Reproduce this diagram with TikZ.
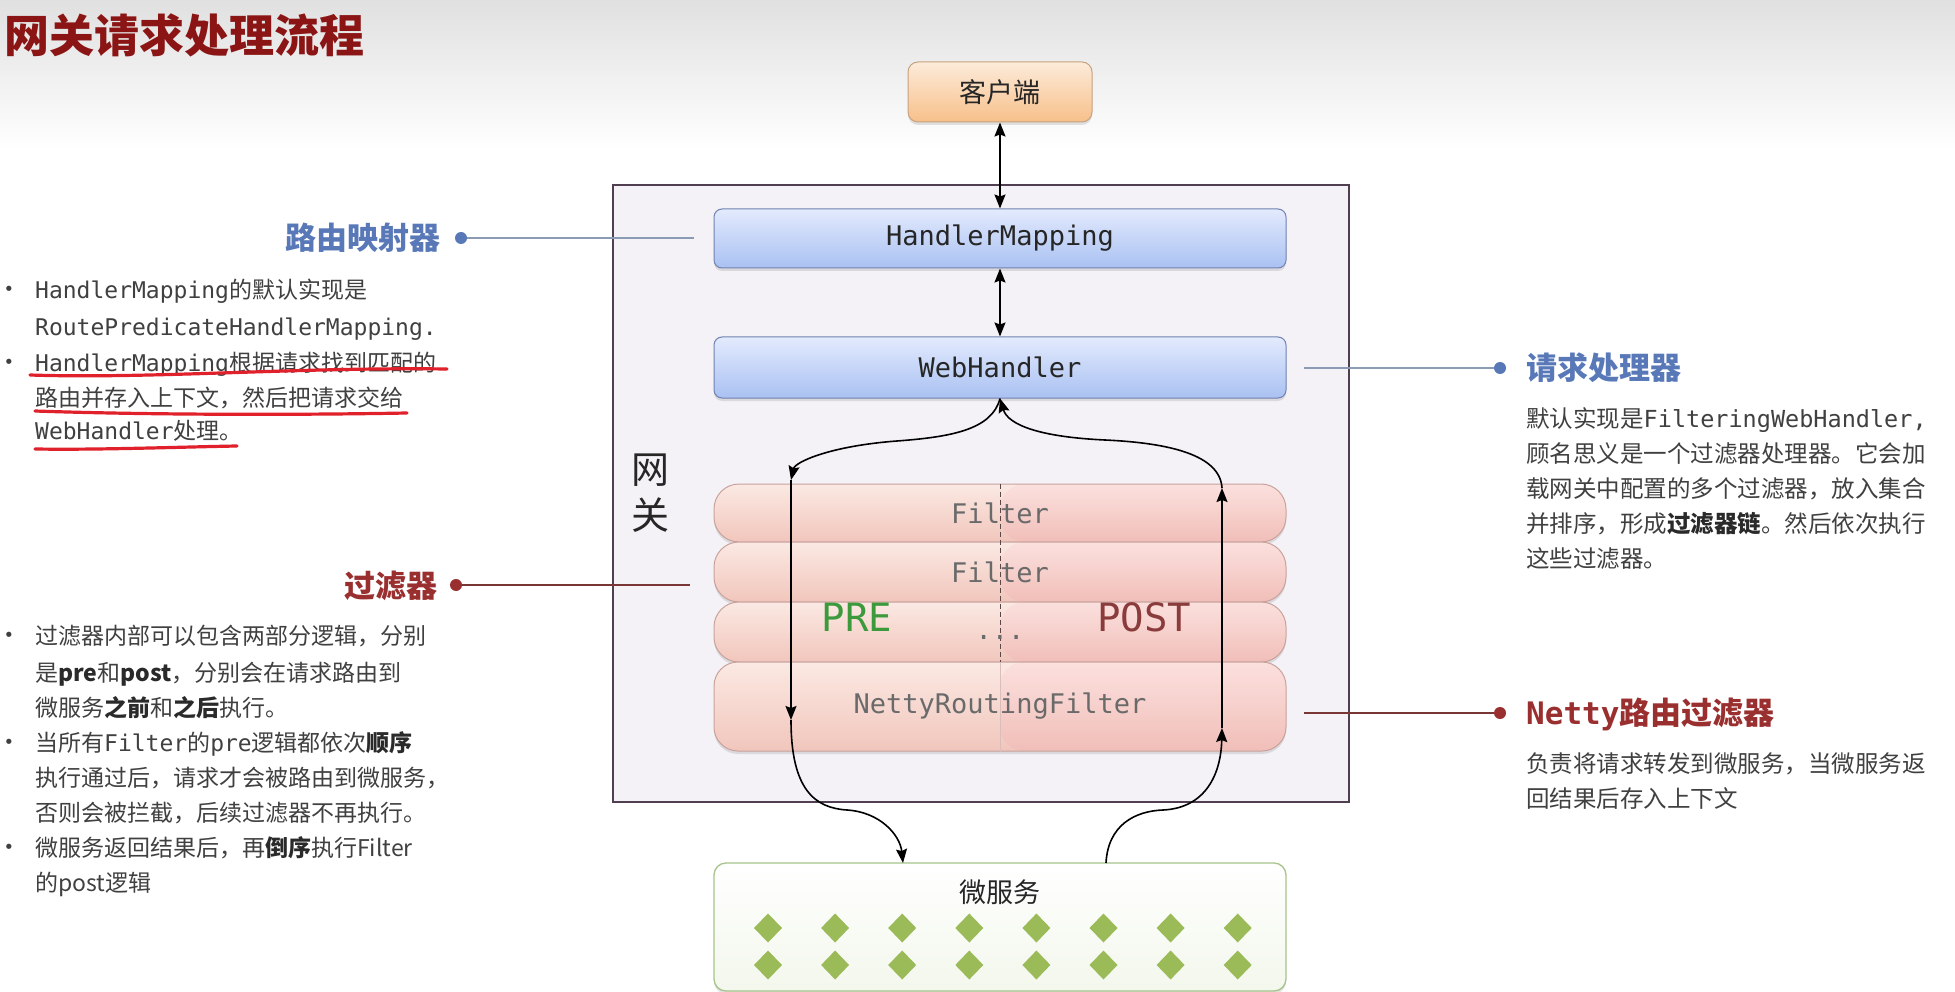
\documentclass[tikz,border=0pt]{standalone}
\usepackage{fontspec}
\setmainfont{Noto Sans CJK SC}
\setmonofont{DejaVu Sans Mono}
\newfontfamily\bulletfont{DejaVu Sans}
\usetikzlibrary{arrows.meta,shadows}
\definecolor{titleRed}{HTML}{8B1515}
\definecolor{headBlue}{HTML}{5878B8}
\definecolor{headRed}{HTML}{9A2F2F}
\definecolor{lineBlue}{HTML}{8C9BB4}
\definecolor{lineRed}{HTML}{7A3535}
\definecolor{bodyGray}{HTML}{404040}
\definecolor{boldGray}{HTML}{2A2A2A}
\definecolor{gwFill}{HTML}{F4F2F7}
\definecolor{gwDraw}{HTML}{4F3F50}
\definecolor{hmTop}{HTML}{E3EAFD}
\definecolor{hmBot}{HTML}{A9C1F2}
\definecolor{hmDraw}{HTML}{6F82B0}
\definecolor{clTop}{HTML}{FCEBDA}
\definecolor{clBot}{HTML}{F7C08A}
\definecolor{clDraw}{HTML}{C7A27E}
\definecolor{fTop}{HTML}{FBE9E3}
\definecolor{fBot}{HTML}{F1C6BC}
\definecolor{fDraw}{HTML}{C9A29C}
\definecolor{msTop}{HTML}{FFFFFF}
\definecolor{msBot}{HTML}{F3F7EC}
\definecolor{msDraw}{HTML}{A7C48C}
\definecolor{diaGreen}{HTML}{9BBB59}
\definecolor{preGreen}{HTML}{3C9A3C}
\definecolor{postRed}{HTML}{8A3B3B}
\definecolor{fText}{HTML}{6A6A6A}
\definecolor{dashCol}{HTML}{5A4848}
\definecolor{markRed}{HTML}{E0202A}
\newcommand\myb[1]{{\bfseries\color{boldGray}#1}}
\begin{document}
\begin{tikzpicture}[x=1pt,y=-1pt,
  body/.style={anchor=base west, inner sep=0pt, text=bodyGray, font=\fontsize{23}{30}\selectfont},
  rbody/.style={anchor=base west, inner sep=0pt, text=bodyGray, font=\fontsize{23.5}{30}\selectfont},
  bul/.style={anchor=base, inner sep=0pt, text=bodyGray, font=\bulletfont\fontsize{18}{20}\selectfont},
  hb/.style={inner sep=0pt, text=headBlue, font=\bfseries\fontsize{31}{34}\selectfont},
  hr/.style={inner sep=0pt, text=headRed, font=\bfseries\fontsize{31}{34}\selectfont},
  dotb/.style={circle, fill=headBlue, inner sep=0pt, minimum size=12pt},
  dotr/.style={circle, fill=headRed, inner sep=0pt, minimum size=12pt},
  lb/.style={line width=1.2pt, draw=lineBlue},
  lr/.style={line width=1.2pt, draw=lineRed},
  shad/.style={drop shadow={opacity=0.22, shadow xshift=0pt, shadow yshift=-3pt}},
  gwbox/.style={draw=gwDraw, line width=1.3pt, fill=gwFill, minimum width=736pt, minimum height=617pt, inner sep=0pt},
  bluebox/.style={shad, draw=hmDraw, line width=1pt, rounded corners=8pt, top color=hmTop, bottom color=hmBot, minimum width=572pt, inner sep=0pt, font=\ttfamily\fontsize{27}{30}\selectfont, text=black!85},
  clbox/.style={shad, draw=clDraw, line width=1pt, rounded corners=10pt, top color=clTop, bottom color=clBot, minimum width=184pt, minimum height=60pt, inner sep=0pt, font=\fontsize{27}{30}\selectfont, text=black!85},
  fbox/.style={shad, draw=fDraw, line width=1pt, rounded corners=25pt, top color=fTop, bottom color=fBot, minimum width=572pt, inner sep=0pt, font=\ttfamily\fontsize{27}{30}\selectfont, text=fText,
     path picture={\fill[red!60!magenta, opacity=0.035] (path picture bounding box.north) rectangle (path picture bounding box.south east);}},
  msbox/.style={shad, draw=msDraw, line width=1.3pt, rounded corners=12pt, top color=msTop, bottom color=msBot, minimum width=572pt, minimum height=128pt, inner sep=0pt},
  conn/.style={line width=1.6pt, black, -{Stealth[length=14pt,width=11pt,inset=2pt]}},
  biconn/.style={line width=1.6pt, black, {Stealth[length=14pt,width=11pt,inset=2pt]}-{Stealth[length=14pt,width=11pt,inset=2pt]}},
  redmark/.style={line width=3.2pt, draw=markRed, line cap=round},
  dia/.style={fill=diaGreen}
]
\useasboundingbox (0,0) rectangle (1955,992);
% background
\fill[white] (0,0) rectangle (1955,992);
\shade[top color=black!12, bottom color=white] (0,0) rectangle (1955,150);

% title
\node[anchor=base west, inner sep=0pt, text=titleRed, font=\bfseries\fontsize{45}{50}\selectfont] (title) at (4,53) {网关请求处理流程};

% gateway
\node[gwbox] (gw) at (981,493.5) {};
\node[inner sep=0pt, align=center, text=black!85, font=\fontsize{38}{46}\selectfont] (gwlbl) at (650,493) {网\\关};

% client
\node[clbox] (client) at (1000,92) {客户端};

% handler boxes
\node[bluebox, minimum height=59pt] (hm) at (1000,238.5) {HandlerMapping};
\node[bluebox, minimum height=61pt] (wh) at (1000,367.5) {WebHandler};

% filters
\node[fbox, minimum height=58pt] (f1) at (1000,513) {Filter};
\node[fbox, minimum height=60pt] (f2) at (1000,572) {Filter};
\node[fbox, minimum height=60pt] (f3) at (1000,632) {};
\node[fbox, minimum height=89pt, rounded corners=24pt] (nrf) at (1000,706.5) {NettyRoutingFilter};
\draw[dashCol, line width=1pt, dash pattern=on 5pt off 3pt] (f1.north) -- (f3.south);
\draw[fDraw!70, line width=0.8pt] (nrf.north) -- (nrf.south);
\node[inner sep=0pt, text=fText, font=\ttfamily\fontsize{27}{30}\selectfont] (dots) at (1000,637) {...};
\node[inner sep=0pt, text=preGreen, font=\ttfamily\fontsize{39}{42}\selectfont] (pre) at (857,617) {PRE};
\node[inner sep=0pt, text=postRed, font=\ttfamily\fontsize{39}{42}\selectfont] (post) at (1144,617) {POST};

% microservices
\node[msbox] (ms) at (1000,927) {};
\node[inner sep=0pt, text=black!85, font=\fontsize{27}{30}\selectfont] (mstxt) at (1000,892) {微服务};
\foreach \i in {0,...,7} {
  \foreach \yy in {928,965} {
    \fill[dia] (768+67.1*\i,\yy) +(0,-14.5) -- +(14,0) -- +(0,14.5) -- +(-14,0) -- cycle;
  }
}

% connectors
\coordinate (lt) at (791,480);
\coordinate (lbt) at (791,720);
\coordinate (rt) at (1222,488);
\coordinate (rbt) at (1222,728);
\coordinate (msl) at (903,863);
\coordinate (msr) at (1106,863);
\draw[biconn] (client.south) -- (hm.north);
\draw[biconn] (hm.south) -- (wh.north);
\draw[conn] (wh.south) .. controls (992,430) and (950,437) .. (897,441) .. controls (830,446) and (795,462) .. (lt);
\draw[conn] (lt) -- (lbt);
\draw[conn] (lbt) .. controls (791,790) and (815,808) .. (847,810) .. controls (880,812) and (900,835) .. (msl);
\draw[conn] (msr) .. controls (1108,825) and (1135,811) .. (1163,810) .. controls (1205,808) and (1221,775) .. (rbt);
\draw[conn] (rbt) -- (rt);
\draw[conn] (rt) .. controls (1220,455) and (1170,443) .. (1105,440) .. controls (1040,437) and (1008,425) .. (wh.south);

% left: routing mapper
\node[hb, anchor=base east] (hmhead) at (441,250) {路由映射器};
\node[dotb] (hmdot) at (461,238) {};
\coordinate (hmend) at (694,238);
\draw[lb] (hmdot) -- (hmend);
\node[bul] (b1) at (9,296) {•};
\node[body] (l1) at (35,299) {\texttt{HandlerMapping}的默认实现是};
\node[body] (l2) at (35,336) {\texttt{RoutePredicateHandlerMapping.}};
\node[bul] (b2) at (9,368) {•};
\node[body] (l3) at (35,371) {\texttt{HandlerMapping}根据请求找到匹配的};
\node[body] (l4) at (35,406) {路由并存入上下文，然后把请求交给};
\node[body] (l5) at (35,439) {\texttt{WebHandler}处理。};
\draw[redmark] (30,375) .. controls (150,379) and (300,367) .. (447,369);
\draw[redmark] (35,411) .. controls (150,415) and (300,415) .. (407,413);
\draw[redmark] (35,449) .. controls (100,450) and (180,447) .. (237,446);

% left: filters
\node[hr, anchor=base east] (fhead) at (438,597) {过滤器};
\node[dotr] (fdot) at (456,585) {};
\coordinate (fend) at (690,585);
\draw[lr] (fdot) -- (fend);
\node[bul] (b3) at (9,641) {•};
\node[body] (m1) at (35,644) {过滤器内部可以包含两部分逻辑，分别};
\node[body] (m2) at (35,681) {是\myb{pre}和\myb{post}，分别会在请求路由到};
\node[body] (m3) at (35,716) {微服务\myb{之前}和\myb{之后}执行。};
\node[bul] (b4) at (9,748) {•};
\node[body] (m4) at (35,751) {当所有\texttt{Filter}的\texttt{pre}逻辑都依次\myb{顺序}};
\node[body] (m5) at (35,786) {执行通过后，请求才会被路由到微服务，};
\node[body] (m6) at (35,821) {否则会被拦截，后续过滤器不再执行。};
\node[bul] (b5) at (9,853) {•};
\node[body] (m7) at (35,856) {微服务返回结果后，再\myb{倒序}执行Filter};
\node[body] (m8) at (35,891) {的post逻辑};

% right: web handler
\coordinate (whstart) at (1304,368);
\node[dotb] (whdot) at (1500,368) {};
\draw[lb] (whstart) -- (whdot);
\node[hb, anchor=base west] (whhead) at (1526,380) {请求处理器};
\node[rbody] (r1) at (1526,427) {默认实现是\texttt{FilteringWebHandler,}};
\node[rbody] (r2) at (1526,462) {顾名思义是一个过滤器处理器。它会加};
\node[rbody] (r3) at (1526,497) {载网关中配置的多个过滤器，放入集合};
\node[rbody] (r4) at (1526,532) {并排序，形成\myb{过滤器链}。然后依次执行};
\node[rbody] (r5) at (1526,567) {这些过滤器。};

% right: netty
\coordinate (nstart) at (1304,713);
\node[dotr] (ndot) at (1500,713) {};
\draw[lr] (nstart) -- (ndot);
\node[hr, anchor=base west] (nhead) at (1526,724) {\texttt{Netty}路由过滤器};
\node[rbody] (n1) at (1526,772) {负责将请求转发到微服务，当微服务返};
\node[rbody] (n2) at (1526,807) {回结果后存入上下文};
\end{tikzpicture}
\end{document}
